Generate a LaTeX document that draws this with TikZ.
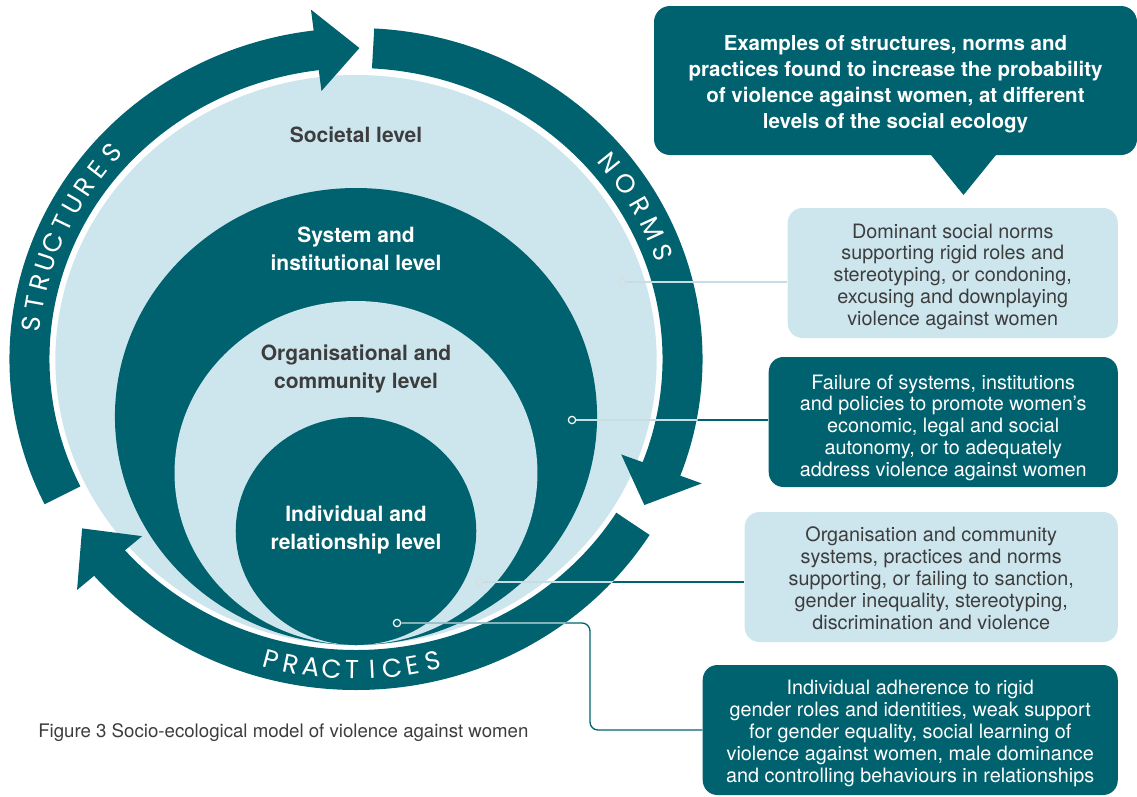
\documentclass[tikz,border=0pt]{standalone}
\usepackage{fontspec}
\setmainfont{TeX Gyre Heros}
\newfontfamily\ringfont{Poppins}
\usepackage{tikz}
\usetikzlibrary{positioning}

\definecolor{deepteal}{HTML}{00626E}
\definecolor{paleblue}{HTML}{CDE6EE}
\definecolor{inkgrey}{HTML}{3D3D3D}
\definecolor{linkpale}{HTML}{C8DDE3}

% raises the first line of a box so the text sits a little lower
\newcommand\padtop[1]{\rule{0pt}{#1}}

\begin{document}
\begin{tikzpicture}[x=0.75pt, y=-0.75pt,
        band/.style={draw=deepteal, line width=30pt},
        ringletter/.style={text=white, font=\ringfont\fontsize{19.5}{19.5}\selectfont, inner sep=0pt},
        lvldark/.style={text=white, font=\bfseries\fontsize{15.75}{21}\selectfont, align=center},
        lvllight/.style={lvldark, text=inkgrey},
        darkbox/.style={fill=deepteal, text=white, rounded corners=11pt, align=center, inner sep=0pt,
            minimum height=97.5pt, font=\fontsize{14.85}{16.4}\selectfont},
        lightbox/.style={darkbox, fill=paleblue, text=inkgrey},
        dotdark/.style={circle, inner sep=0pt, minimum size=5.5pt, line width=0.9pt, draw=white, fill=deepteal},
        dotpale/.style={dotdark, draw=white!70!linkpale!80!gray, fill=paleblue},
        link/.style={draw=deepteal, line width=1pt},
        linkin/.style={draw=linkpale, line width=1pt}
    ]
        \useasboundingbox (0,0) rectangle (1137,796);

        % Levels
        \begin{scope}[shift={(356,0)}, xscale=1.055]
            \fill[paleblue] (0,360) circle[radius=285];
            \fill[deepteal] (0,416.5) circle[radius=228.5];
            \fill[paleblue] (0,473) circle[radius=172];
            \fill[deepteal] (0,531) circle[radius=114];
        \end{scope}

        % Ring of arrows
        \begin{scope}[shift={(356,359)}, xscale=1.05]
            \draw[band] (154:311) arc[start angle=154, end angle=263.5, radius=311];
            \fill[deepteal] (263:270) -- (270.6:311) -- (263:352) -- cycle;
            \draw[band] (273:311) arc[start angle=273, end angle=381.2, radius=311];
            \fill[deepteal] (380.7:270) -- (388:311) -- (380.7:352) -- cycle;
            \draw[band] (32:311) arc[start angle=32, end angle=139.5, radius=311];
            \fill[deepteal] (139:270) -- (147:311) -- (139:352) -- cycle;

            \foreach \ch [count=\i] in {S,T,R,U,C,T,U,R,E,S}
                \node[ringletter, rotate={-272.5-3.9*\i}] at ({182.5+3.9*\i}:311) {\ch};
            \foreach \ch [count=\i] in {N,O,R,M,S}
                \node[ringletter, rotate={-406.25-4.75*\i}] at ({316.25+4.75*\i}:311) {\ch};
            \foreach \ch [count=\i] in {P,R,A,C,T,I,C,E,S}
                \node[ringletter, rotate={-18.57+3.57*\i}] at ({108.57-3.57*\i}:311) {\ch};
        \end{scope}

        % Level labels
        \node[lvllight] (soc) at (356,135) {Societal level};
        \node[lvldark] (sys) at (356,249) {System and\\institutional level};
        \node[lvllight] (orgl) at (356,368.5) {Organisational and\\community level};
        \node[lvldark] (ind) at (356,530) {Individual and\\relationship level};

        % Boxes
        \node[darkbox, rounded corners=12pt, minimum width=362.25pt, minimum height=111.75pt,
            font=\bfseries\fontsize{15.4}{19.5}\selectfont] (head) at (895.5,80.5)
            {\padtop{17pt}Examples of structures, norms and\\practices found to increase the probability\\of violence against women, at different\\levels of the social ecology};
        \fill[deepteal] (927,150) -- (1000,150) -- (963.5,195) -- cycle;

        \node[lightbox, minimum width=247.5pt, anchor=east] (dom) at (1118,273)
            {\padtop{16.5pt}Dominant social norms\\supporting rigid roles and\\stereotyping, or condoning,\\excusing and downplaying\\violence against women};
        \node[darkbox, minimum width=261.75pt, anchor=east] (fail) at (1118,422)
            {\padtop{19.5pt}Failure of systems, institutions\\and policies to promote women’s\\economic, legal and social\\autonomy, or to adequately\\address violence against women};
        \node[lightbox, minimum width=279.75pt, anchor=east] (orgbox) at (1118,577)
            {\padtop{12.7pt}Organisation and community\\systems, practices and norms\\supporting, or failing to sanction,\\gender inequality, stereotyping,\\discrimination and violence};
        \node[darkbox, minimum width=311.25pt, anchor=east] (indbox) at (1118,730)
            {\padtop{15.7pt}Individual adherence to rigid\\gender roles and identities, weak support\\for gender equality, social learning of\\violence against women, male dominance\\and controlling behaviours in relationships};

        % Connectors
        \node[dotpale] (d1) at (622,282) {};
        \node[dotdark] (d2) at (572,420) {};
        \node[dotpale] (d3) at (479,582) {};
        \node[dotdark] (d4) at (397,623) {};

        \draw[link, draw=linkpale] (d1) -- (d1 -| dom.west);
        \draw[link] (d2) -- (d2 -| fail.west);
        \draw[link] (d3) -- (d3 -| orgbox.west);
        \draw[link, rounded corners=6pt] (d4) -- (590,623) -- (590,730) -- (indbox.west);
        \begin{scope}
            \clip (356,359) ellipse [x radius=347.5, y radius=331];
            \draw[linkin] (d2) -- (d2 -| fail.west);
            \draw[linkin] (d3) -- (d3 -| orgbox.west);
            \draw[linkin, rounded corners=6pt] (d4) -- (590,623) -- (590,730) -- (indbox.west);
        \end{scope}

        \node[anchor=west, inner sep=0pt, text=inkgrey, font=\fontsize{14}{16}\selectfont] (caption) at (38,733)
            {Figure 3 Socio-ecological model of violence against women};
\end{tikzpicture}
\end{document}
